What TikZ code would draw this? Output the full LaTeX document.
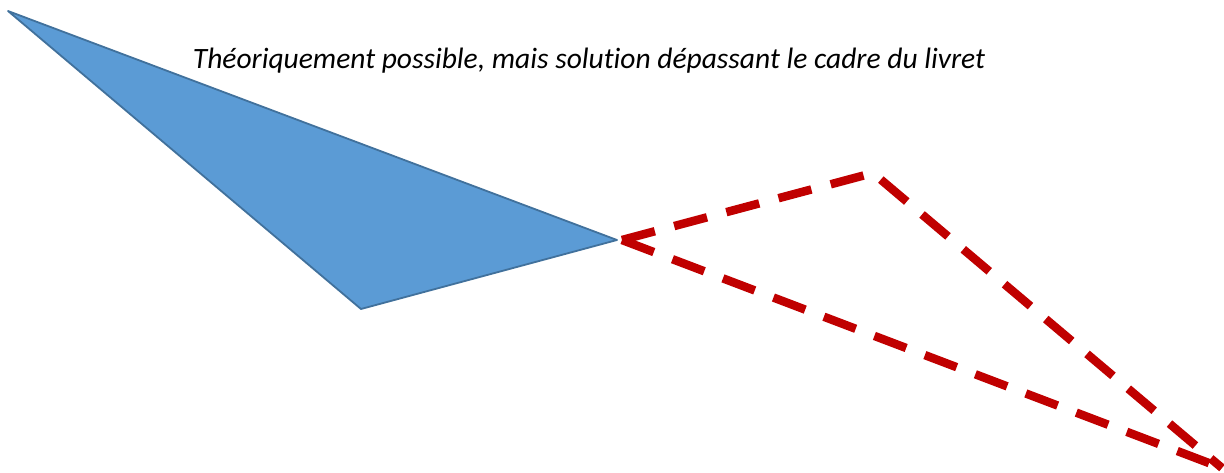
\documentclass[tikz,border=0pt]{standalone}
\usepackage{fontspec}
\setmainfont[Ligatures=NoCommon]{Carlito}
\definecolor{triblue}{HTML}{5B9BD5}
\definecolor{triedge}{HTML}{41719C}
\definecolor{dashred}{HTML}{C00000}
\begin{document}
\begin{tikzpicture}[x=1pt,y=-1pt,
  bluetri/.style={fill=triblue,draw=triedge,line width=1.8pt,line join=round},
  redline/.style={draw=dashred,line width=8.5pt,dash pattern=on 34pt off 20pt},
  caption/.style={font=\itshape\fontsize{29.5}{34}\selectfont,inner sep=0pt}]
\useasboundingbox (0,0) rectangle (1224,472);
\coordinate (a) at (8,11);
\coordinate (b) at (617,240);
\coordinate (c) at (361,309);
\coordinate (d) at (622,240);
\coordinate (e) at (873,173);
\coordinate (f) at (1222,468);
\draw[bluetri] (a) -- (b) -- (c) -- cycle;
\draw[redline] (d) -- (e) -- (f);
\draw[redline] (d) -- (f);
\node[caption] (t) at (589,61) {Théoriquement possible, mais solution dépassant le cadre du livret};
\end{tikzpicture}
\end{document}
